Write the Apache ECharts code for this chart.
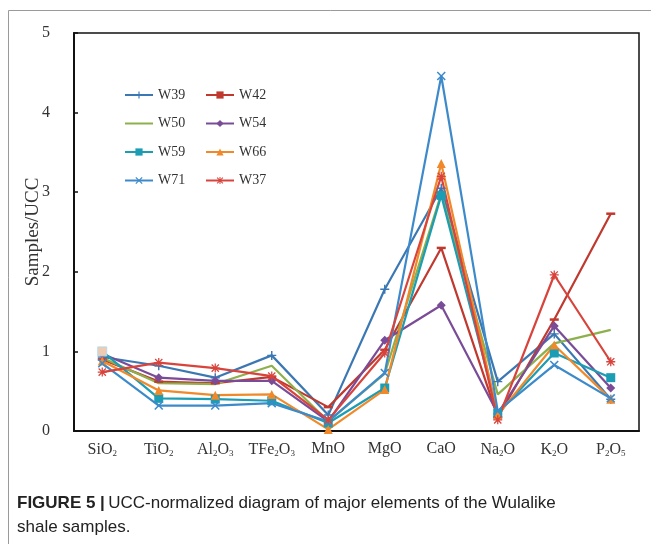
<!DOCTYPE html>
<html><head><meta charset="utf-8">
<script src="https://cdn.jsdelivr.net/npm/echarts@6/dist/echarts.min.js"></script>
<style>html,body{margin:0;padding:0;background:#fff}#c{width:651px;height:544px}</style>
</head><body><div id="c"></div>
<script>
var categories = ['SiO2','TiO2','Al2O3','TFe2O3','MnO','MgO','CaO','Na2O','K2O','P2O5'];
var categoryLabels = ['{n|SiO}{s|2}','{n|TiO}{s|2}','{n|Al}{s|2}{n|O}{s|3}','{n|TFe}{s|2}{n|O}{s|3}','{n|MnO}','{n|MgO}','{n|CaO}','{n|Na}{s|2}{n|O}','{n|K}{s|2}{n|O}','{n|P}{s|2}{n|O}{s|5}'];
var yTicks = [0,1,2,3,4,5];
var W39 = [0.93, 0.82, 0.67, 0.95, 0.20, 1.78, 3.05, 0.62, 1.22, 0.40];
var W42 = [0.90, 0.62, 0.60, 0.68, 0.30, 1.02, 2.30, 0.17, 1.40, 2.73];
var W50 = [0.92, 0.60, 0.59, 0.82, 0.12, 0.72, 2.98, 0.46, 1.10, 1.27];
var W54 = [0.97, 0.67, 0.63, 0.63, 0.12, 1.14, 1.58, 0.22, 1.32, 0.54];
var W59 = [1.00, 0.41, 0.40, 0.38, 0.10, 0.54, 2.96, 0.22, 0.98, 0.67];
var W66 = [0.88, 0.51, 0.45, 0.46, 0.02, 0.52, 3.36, 0.20, 1.08, 0.40];
var W71 = [0.85, 0.32, 0.32, 0.35, 0.12, 0.73, 4.46, 0.25, 0.83, 0.41];
var W37 = [0.74, 0.86, 0.79, 0.69, 0.14, 0.98, 3.20, 0.14, 1.96, 0.87];

var PLUS = 'path://M4.2,0H5.8V4.2H10V5.8H5.8V10H4.2V5.8H0V4.2H4.2Z';
var CROSS = 'path://M1.2,0L5,3.8L8.8,0L10,1.2L6.2,5L10,8.8L8.8,10L5,6.2L1.2,10L0,8.8L3.8,5L0,1.2Z';
var STAR = 'path://M4.3,0H5.7V10H4.3Z M0,4.3H10V5.7H0Z M1.5,0.5L5,4L8.5,0.5L9.5,1.5L6,5L9.5,8.5L8.5,9.5L5,6L1.5,9.5L0.5,8.5L4,5L0.5,1.5Z';

function mk(name, data, color, symbol, size, show) {
  return {
    name: name, type: 'line', data: data,
    symbol: symbol, symbolSize: size, showSymbol: show !== false,
    lineStyle: { color: color, width: 2.2 },
    itemStyle: { color: color },
    emphasis: { disabled: true },
    animation: false
  };
}
var w59data = W59.map(function (v, i) {
  return i === 0 ? { value: v, itemStyle: { color: '#efcbb4', borderColor: '#b7dbe6', borderWidth: 1 } } : v;
});

var serif = 'Liberation Serif, Times New Roman, serif';
var sans = 'Liberation Sans Narrow, Liberation Sans, Arial, sans-serif';
var legText = { fontFamily: serif, fontSize: 14, color: '#333' };
var chart = echarts.init(document.getElementById('c'), null, { renderer: 'canvas' });
chart.setOption({
  backgroundColor: '#fff',
  animation: false,
  grid: { left: 74, right: 12, top: 33, bottom: 113, show: true, borderColor: '#111', borderWidth: 1.5 },
  legend: [
    { orient: 'vertical', left: 119, top: 83, itemWidth: 28, itemHeight: 9, itemGap: 14.5,
      data: ['W39', { name: 'W50', itemStyle: { color: 'rgba(0,0,0,0)', borderWidth: 0, opacity: 0 } }, 'W59', 'W71'], textStyle: legText },
    { orient: 'vertical', left: 200, top: 83, itemWidth: 28, itemHeight: 9, itemGap: 14.5,
      data: ['W42', 'W54', 'W66', 'W37'], textStyle: legText }
  ],
  xAxis: {
    type: 'category', data: categories, boundaryGap: true,
    axisLine: { lineStyle: { color: '#111', width: 2 } },
    axisTick: { inside: true, length: 4, interval: 0, lineStyle: { color: '#111', width: 1.5 } },
    axisLabel: {
      margin: 10, color: '#333', interval: 0,
      formatter: function (v, i) { return categoryLabels[i]; },
      rich: {
        n: { fontFamily: serif, fontSize: 16, color: '#333' },
        s: { fontFamily: serif, fontSize: 9, color: '#333', verticalAlign: 'bottom', padding: [8, 0, 0, 0] }
      }
    }
  },
  yAxis: {
    type: 'value', min: 0, max: 5, interval: 1,
    name: 'Samples/UCC', nameLocation: 'middle', nameGap: 31, nameMoveOverlap: false,
    nameTextStyle: { fontFamily: serif, fontSize: 19, color: '#333' },
    axisLine: { show: true, lineStyle: { color: '#111', width: 2 } },
    axisTick: { show: true, inside: true, length: 4, lineStyle: { color: '#111', width: 1.5 } },
    splitLine: { show: false },
    axisLabel: { margin: 24, fontFamily: serif, fontSize: 16, color: '#333',
      formatter: function (v) { return yTicks.indexOf(v) >= 0 ? String(v) : ''; } }
  },
  series: [
    mk('W39', W39, '#3b78b3', PLUS, 9),
    mk('W42', W42, '#c0392f', 'rect', [9, 2.5]),
    mk('W50', W50, '#8db04c', 'circle', 6, false),
    mk('W54', W54, '#7a4c98', 'diamond', 9),
    mk('W59', w59data, '#1b9db3', 'rect', 9),
    mk('W66', W66, '#f0892a', 'triangle', 9),
    mk('W71', W71, '#3d8acb', CROSS, 9),
    mk('W37', W37, '#d8443c', STAR, 9)
  ],
  graphic: [
    { type: 'rect', shape: { x: 8.5, y: 10.5, width: 700, height: 600 }, style: { fill: 'none', stroke: '#9a9a9a', lineWidth: 1 }, silent: true },
    { type: 'text', left: 17, top: 491, style: {
      rich: {
        b: { fontFamily: sans, fontWeight: 'bold', fontSize: 17, fill: '#222' },
        r: { fontFamily: sans, fontSize: 17, fill: '#222' }
      },
      text: '{b|FIGURE 5 |} {r|UCC-normalized diagram of major elements of the Wulalike}\n{r|shale samples.}',
      lineHeight: 24
    } }
  ]
});
</script></body></html>
